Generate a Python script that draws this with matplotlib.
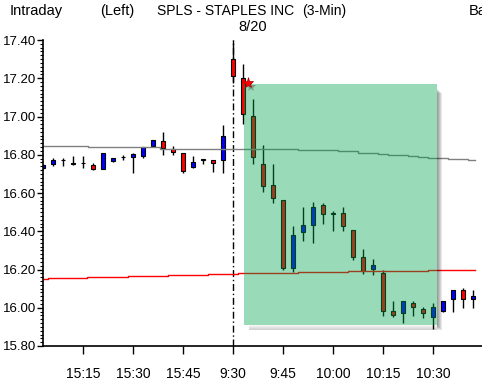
import numpy as np
import matplotlib.pyplot as plt
import matplotlib.patches as patches
from matplotlib.transforms import IdentityTransform

plt.rcParams['font.family'] = ['Liberation Sans', 'DejaVu Sans']

# 3-Min Kerzen, Index 0 = 9:30 am 8/20, negative = Vortag
bar_idx = list(range(-19, 25))
opens = [16.73, 16.75, 16.770, 16.750, 16.757, 16.745, 16.728, 16.768, 16.787, 16.790,
         16.796, 16.846, 16.874, 16.829, 16.811, 16.738, 16.775, 16.775, 16.770,
         17.30, 17.203, 17.005, 16.754, 16.644, 16.561, 16.206, 16.397, 16.433, 16.536,
         16.497, 16.495, 16.404, 16.263, 16.204, 16.180, 15.981, 15.974, 16.023, 15.993,
         15.953, 15.984, 16.047, 16.092, 16.047]
highs = [16.75, 16.785, 16.783, 16.794, 16.794, 16.755, 16.811, 16.785, 16.800, 16.811,
         16.843, 16.876, 16.917, 16.844, 16.811, 16.792, 16.775, 16.775, 16.954,
         17.40, 17.276, 17.093, 16.853, 16.754, 16.561, 16.427, 16.527, 16.552, 16.547,
         16.505, 16.526, 16.404, 16.307, 16.253, 16.200, 16.035, 16.035, 16.037, 16.002,
         16.025, 16.035, 16.092, 16.103, 16.092]
lows = [16.725, 16.74, 16.741, 16.745, 16.731, 16.720, 16.725, 16.762, 16.771, 16.702,
        16.785, 16.843, 16.801, 16.801, 16.702, 16.733, 16.752, 16.710, 16.702,
        17.177, 16.963, 16.752, 16.603, 16.548, 16.197, 16.188, 16.348, 16.339, 16.439,
        16.402, 16.402, 16.249, 16.178, 16.171, 15.957, 15.953, 15.922, 15.958, 15.946,
        15.889, 15.978, 15.978, 15.998, 15.998]
closes = [16.745, 16.775, 16.775, 16.755, 16.757, 16.728, 16.811, 16.785, 16.787, 16.804,
          16.843, 16.876, 16.836, 16.815, 16.717, 16.764, 16.775, 16.759, 16.897,
          17.21, 17.011, 16.790, 16.639, 16.574, 16.206, 16.383, 16.432, 16.526, 16.488,
          16.490, 16.428, 16.266, 16.193, 16.221, 15.984, 15.963, 16.035, 16.005, 15.974,
          16.004, 16.035, 16.092, 16.047, 16.061]

# graue Linie (Stufen)
gray_x = [-19.1, -14.5, -7.3, 4.5, 6.5, 10.5, 12.5, 14.5, 15.5, 17.5, 18.5, 19.5, 21.5, 23.5, 24.2]
gray_y = [16.844, 16.838, 16.832, 16.829, 16.823, 16.817, 16.809, 16.804, 16.799, 16.794,
          16.788, 16.785, 16.780, 16.775, 16.775]
# rote Linie (Stufen)
red_x = [-19.1, -18.5, -14.6, -10.5, -6.5, -2.5, 0.5, 6.5, 11.5, 19.5, 24.2]
red_y = [16.150, 16.153, 16.159, 16.164, 16.169, 16.174, 16.180, 16.185, 16.190, 16.195, 16.195]

tick_pos = [-15, -10, -5, 0, 5, 10, 15, 20]
tick_labels = ['15:15', '15:30', '15:45', '9:30', '9:45', '10:00', '10:15', '10:30']

# markierter Bereich
box_x0, box_x1 = 1.1, 20.4
box_lo, box_hi = 15.91, 17.168

fig = plt.figure(figsize=(4.82, 3.82), dpi=100)
ax = fig.add_axes([43/482, 36/382, 439/482, 306/382])
ax.set_xlim(-19.0, 24.9)
ax.set_ylim(15.80, 17.40)

x = np.array(bar_idx)
o = np.array(opens)
c = np.array(closes)
up = c >= o
ax.vlines(x, lows, highs, color='black', lw=1, zorder=2)
ax.bar(x, np.maximum(np.abs(c - o), 0.0005), bottom=np.minimum(o, c), width=0.45,
       color=np.where(up, '#0000ff', '#ff0000'), edgecolor='black', lw=0.8, zorder=2.2)

ax.step(gray_x, gray_y, where='post', color='#808080', lw=1, zorder=2.5)
ax.step(red_x, red_y, where='post', color='#ff0000', lw=1, zorder=2.5)

ax.axvline(0, color='black', lw=1, dashes=(5, 2, 1, 2), zorder=1.5, clip_on=False)

# Schatten + gruene Box
fig.canvas.draw()
(px0, py0) = ax.transData.transform((box_x0, box_lo))
(px1, py1) = ax.transData.transform((box_x1, box_hi))
for i in range(5):
    a = 0.09
    ax.add_patch(patches.Rectangle((px1, py0 - 5 + i), 5 - i, (py1 - py0) - 4, transform=IdentityTransform(),
                                   facecolor='black', alpha=a, lw=0, zorder=2.8))
    ax.add_patch(patches.Rectangle((px0 + 5, py0 - 5 + i), (px1 - px0) - 5, 1,
                                   transform=IdentityTransform(), facecolor='black', alpha=a * (5 - i) / 2.5,
                                   lw=0, zorder=2.8))
ax.add_patch(patches.Rectangle((box_x0, box_lo), box_x1 - box_x0, box_hi - box_lo,
                               facecolor='#00a550', alpha=0.4, lw=0, zorder=3))

# Markierung oben links
ax.plot([box_x0 + 0.65], [box_hi - 0.015], marker='*', ms=8, color='#303030', alpha=0.35, mew=0, zorder=4, clip_on=False)
ax.plot([box_x0 + 0.4], [box_hi + 0.005], marker='*', ms=8, color='#ff0000', mec='#b00000', mew=0.5, zorder=5, clip_on=False)

ax.spines['top'].set_visible(False)
ax.spines['right'].set_visible(False)
ax.spines['left'].set_linewidth(1.2)
ax.spines['bottom'].set_linewidth(1.2)

ax.set_yticks(np.arange(15.80, 17.41, 0.20))
ax.set_yticklabels(['%.2f' % v for v in np.arange(15.80, 17.41, 0.20)])
ax.set_yticks(np.arange(15.80, 17.41, 0.02), minor=True)
ax.tick_params(axis='y', which='major', length=4.3, width=1, pad=0.7, labelsize=9.5)
ax.tick_params(axis='y', which='minor', length=2.2, width=0.8)
ax.set_xticks(tick_pos)
ax.set_xticklabels(tick_labels)
ax.tick_params(axis='x', length=6, width=1, pad=9, labelsize=10)

fig.text(10/482, 1 - 11/382, 'Intraday', fontsize=10.5, va='center')
fig.text(100/482, 1 - 11/382, '(Left)', fontsize=10.5, va='center')
fig.text(157/482, 1 - 11/382, 'SPLS - STAPLES INC', fontsize=10, va='center')
fig.text(302/482, 1 - 11/382, '(3-Min)', fontsize=10, va='center')
fig.text(469/482, 1 - 11/382, 'Ba', fontsize=10.5, va='center')
fig.text(253/482, 1 - 27/382, '8/20', fontsize=10.5, va='center', ha='center')

fig.savefig('out.png', dpi=100)
